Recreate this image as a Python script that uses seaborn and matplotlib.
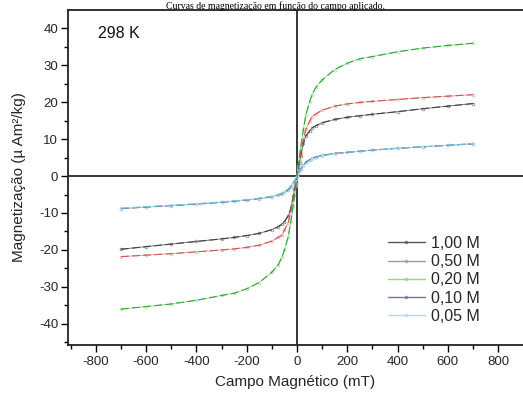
import numpy as np
import pandas as pd
import matplotlib
matplotlib.use("Agg")
import matplotlib.pyplot as plt
from matplotlib.lines import Line2D
from matplotlib.ticker import MultipleLocator
import seaborn as sns

# ---------------- data ----------------
field = [-700, -600, -500, -400, -300, -250, -200, -150, -100, -75, -60, -50, -35, -25, -15, -10, -5, 0,
         5, 10, 15, 25, 35, 50, 60, 75, 100, 150, 200, 250, 300, 400, 500, 600, 700]

m_100 = [-19.8, -19.1, -18.4, -17.7, -17.0, -16.6, -16.1, -15.5, -14.5, -13.7, -13.0, -12.3, -10.8, -8.9, -5.5, -3.6, -1.8, 0.0,
         1.8, 3.5, 5.5, 8.8, 10.8, 12.2, 13.0, 13.6, 14.4, 15.3, 15.9, 16.3, 16.7, 17.4, 18.2, 18.9, 19.6]
m_050 = [-21.8, -21.4, -21.0, -20.5, -20.0, -19.7, -19.3, -18.7, -17.6, -16.6, -16.0, -14.6, -12.6, -9.6, -6.2, -4.0, -2.1, 0.0,
         2.1, 4.0, 6.2, 9.7, 12.6, 14.8, 16.0, 16.8, 17.8, 18.9, 19.5, 19.9, 20.2, 20.7, 21.2, 21.6, 22.0]
m_020 = [-36.0, -35.3, -34.6, -33.6, -32.3, -31.7, -30.5, -28.8, -26.0, -24.0, -22.0, -20.0, -16.5, -12.4, -8.0, -5.5, -2.8, 0.0,
         2.8, 5.5, 8.0, 12.4, 16.5, 20.0, 22.0, 24.0, 26.0, 28.8, 30.5, 31.7, 32.3, 33.6, 34.6, 35.3, 35.9]
m_010 = [-8.8, -8.4, -8.0, -7.6, -7.1, -6.8, -6.5, -6.1, -5.6, -5.1, -4.8, -4.4, -3.7, -2.9, -2.0, -1.5, -0.8, 0.0,
         0.8, 1.5, 2.0, 2.9, 3.7, 4.4, 4.8, 5.1, 5.6, 6.1, 6.4, 6.7, 7.0, 7.5, 7.9, 8.3, 8.7]
m_005 = [-8.7, -8.3, -7.9, -7.5, -7.0, -6.7, -6.4, -6.0, -5.5, -5.0, -4.6, -4.2, -3.5, -2.7, -1.8, -1.3, -0.7, 0.0,
         0.7, 1.3, 1.8, 2.7, 3.5, 4.2, 4.6, 5.0, 5.5, 6.0, 6.4, 6.7, 7.0, 7.5, 7.9, 8.3, 8.8]

labels = ["1,00 M", "0,50 M", "0,20 M", "0,10 M", "0,05 M"]
series = [m_100, m_050, m_020, m_010, m_005]

x_ticks = [-800, -600, -400, -200, 0, 200, 400, 600, 800]
y_ticks = [-40, -30, -20, -10, 0, 10, 20, 30, 40]

# ---------------- style ----------------
sns.set_theme(style="white")
plt.rcParams["font.family"] = ["Liberation Sans", "DejaVu Sans"]

data_colors = ["#7a7a7a", "#e8a8a8", "#9ee09e", "#a4a4cc", "#b2e6ee"]
fit_colors = ["#404040", "#c85858", "#3aa03a", "#4a5a96", "#80c8da"]
legend_colors = ["#555555", "#a09a9c", "#8ed68e", "#7474a4", "#a6e0ea"]

frames = []
for lab, m in zip(labels, series):
    frames.append(pd.DataFrame({"H": field, "M": m, "conc": lab}))
df = pd.concat(frames, ignore_index=True)

fig = plt.figure(figsize=(5.23, 3.98), dpi=100)
ax = fig.add_axes([68 / 523, 1 - 345 / 398, 1 - 68 / 523, (345 - 10) / 398])

ax.axhline(0, color="black", lw=1.1, zorder=1)
ax.axvline(0, color="black", lw=1.1, zorder=1)

for lab, dc, fc in zip(labels, data_colors, fit_colors):
    sub = df[df["conc"] == lab]
    sns.lineplot(data=sub, x="H", y="M", ax=ax, color=dc, lw=0.7,
                 marker="o", markersize=2.0, markerfacecolor="none",
                 markeredgecolor=dc, markeredgewidth=0.5, sort=True,
                 legend=False, zorder=2)
    sns.lineplot(data=sub, x="H", y="M", ax=ax, color=fc, lw=0.8,
                 legend=False, zorder=3, linestyle=(0, (7, 3)))

ax.set_xlim(-911, 899)
ax.set_ylim(-45.7, 44.9)
ax.set_xticks(x_ticks)
ax.set_xticklabels([str(v) for v in x_ticks])
ax.set_yticks(y_ticks)
ax.set_yticklabels([str(v) for v in y_ticks])
ax.xaxis.set_minor_locator(MultipleLocator(100))
ax.yaxis.set_minor_locator(MultipleLocator(5))
ax.tick_params(axis="both", which="major", direction="out", length=5, width=1,
               color="black", labelsize=9.5, pad=2, bottom=True, left=True)
ax.tick_params(axis="both", which="minor", direction="out", length=3, width=1,
               color="black", bottom=True, left=True)
ax.tick_params(axis="x", which="major", pad=3)

for side in ["left", "bottom", "top"]:
    ax.spines[side].set_visible(True)
    ax.spines[side].set_color("#222222")
    ax.spines[side].set_linewidth(1.3)
ax.spines["right"].set_visible(False)

ax.set_xlabel("Campo Magnético (mT)", fontsize=11, labelpad=5)
ax.set_ylabel("Magnetização (µ Am²/kg)", fontsize=11, labelpad=9)

ax.text(-790, 38.5, "298 K", fontsize=11.5, ha="left", va="center", color="#111111")

handles = [Line2D([0], [0], color=c, lw=1.0, marker="o", markersize=2,
                  markerfacecolor="none", markeredgewidth=0.5)
           for c in legend_colors]
leg = ax.legend(handles, labels, loc="upper left",
                bbox_to_anchor=(388 / 523, 1 - 236 / 398), bbox_transform=fig.transFigure,
                frameon=False, fontsize=11.5, handlelength=2.3, handletextpad=0.4,
                labelspacing=0.2, borderpad=0, borderaxespad=0)

fig.text(385 / 523, 1 - 1 / 398, "Curvas de magnetização em função do campo aplicado.",
         ha="right", va="top", fontsize=7,
         family=["Liberation Serif", "DejaVu Serif"], color="black")

fig.savefig("out.png", dpi=100)
